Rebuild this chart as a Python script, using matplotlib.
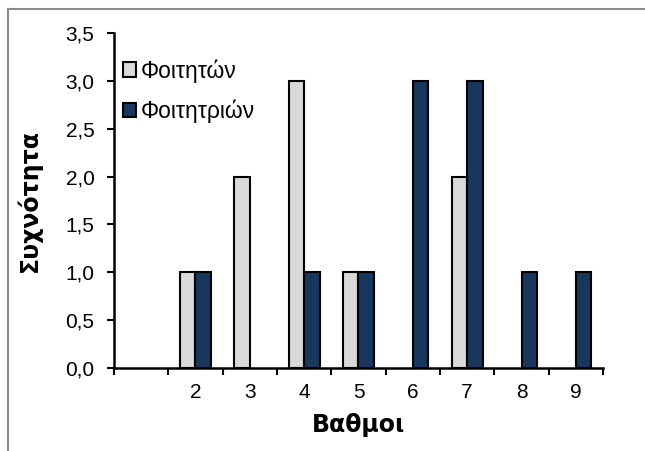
import matplotlib

matplotlib.use("Agg")

import matplotlib.pyplot as plt
import numpy as np
from matplotlib.lines import Line2D
from matplotlib.ticker import FixedLocator, FuncFormatter

# Βαθμοί (η πρώτη κατηγορία δεν έχει ετικέτα)
grades = ["", "2", "3", "4", "5", "6", "7", "8", "9"]
male_counts = [0, 1, 2, 3, 1, 0, 2, 0, 0]
female_counts = [0, 1, 0, 1, 1, 3, 3, 1, 1]

GRAY = "#D9D9D9"
NAVY = "#17375E"

plt.rcParams["font.family"] = ["Liberation Sans", "DejaVu Sans"]

fig = plt.figure(figsize=(6.45, 4.51), dpi=100)
ax = fig.add_axes([0.1767, 0.184, 0.7582, 0.7428])

x = np.arange(len(grades))
width = 1 / 3.5
male = np.array(male_counts, dtype=float)
female = np.array(female_counts, dtype=float)
mm = male > 0
fm = female > 0
ax.bar(x[mm] - width / 2, male[mm], width, color=GRAY, edgecolor="black",
       linewidth=1.5, label="Φοιτητών")
ax.bar(x[fm] + width / 2, female[fm], width, color=NAVY, edgecolor="black",
       linewidth=1.5, label="Φοιτητριών")

ax.set_xlim(-0.5, len(grades) - 0.5)
ax.set_ylim(0, 3.5)
ax.set_yticks(np.arange(0, 3.51, 0.5))
ax.yaxis.set_major_formatter(FuncFormatter(lambda v, _: f"{v:.1f}".replace(".", ",")))

ax.set_xticks(x)
ax.set_xticklabels(grades)
ax.xaxis.set_minor_locator(FixedLocator(np.arange(-0.5, len(grades), 1.0)))
ax.tick_params(axis="x", which="major", length=0, labelsize=15, pad=11)
ax.tick_params(axis="x", which="minor", length=5, width=1.5, direction="out")
ax.tick_params(axis="y", length=5, width=1.5, direction="out", labelsize=15, pad=9)

for side in ("top", "right"):
    ax.spines[side].set_visible(False)
for side in ("left", "bottom"):
    ax.spines[side].set_linewidth(1.8)

ax.set_xlabel("Βαθμοι", family="DejaVu Sans", fontweight="bold", fontsize=17)
ax.set_ylabel("Συχνότητα", family="DejaVu Sans", fontweight="bold", fontsize=17)
ax.xaxis.set_label_coords(0.5, -0.135)
ax.yaxis.set_label_coords(-0.148, 0.5)

ax.legend(loc="upper left", bbox_to_anchor=(0.018, 0.922), frameon=False, fontsize=16.5,
          handlelength=0.57, handleheight=0.57, handletextpad=0.22, labelspacing=0.75,
          borderaxespad=0, borderpad=0)

# πλαίσιο γραφήματος (πάνω και αριστερά)
fig.add_artist(Line2D([8 / 645, 1.0], [1 - 9 / 451, 1 - 9 / 451], color="#8C8C8C",
                      linewidth=1.5, transform=fig.transFigure))
fig.add_artist(Line2D([8 / 645, 8 / 645], [0.0, 1 - 9 / 451], color="#8C8C8C",
                      linewidth=1.5, transform=fig.transFigure))

fig.savefig("out.png", dpi=100)
